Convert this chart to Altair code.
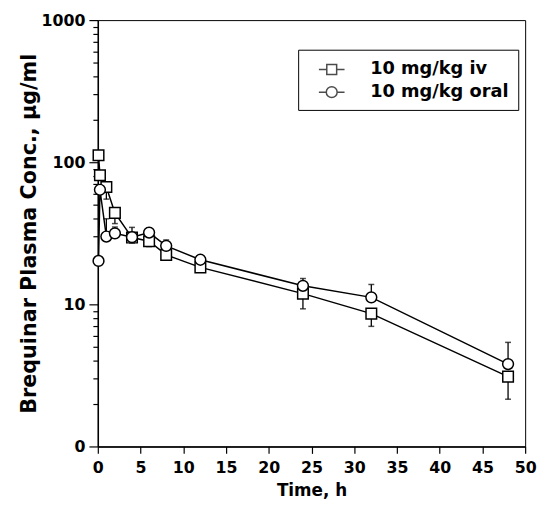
import altair as alt
import pandas as pd

# ---- data ----
times = [0.083, 0.25, 1, 2, 4, 6, 8, 12, 24, 32, 48]
iv_conc = [112, 81, 67, 44, 29.5, 27.8, 22.3, 18.2, 11.9, 8.6, 3.1]
iv_low = [None, None, 55, 37, 27, 25.5, 21, 17, 9.3, 7.0, 2.15]
oral_conc = [20.2, 64, 30, 31.6, 29.7, 32, 25.8, 20.6, 13.5, 11.2, 3.8]
oral_high = [None, None, 40, 35, 34.8, 34.5, 28.4, 21.5, 15.2, 13.8, 5.4]
series = ["10 mg/kg iv", "10 mg/kg oral"]
x_ticks = [0, 5, 10, 15, 20, 25, 30, 35, 40, 45, 50]
y_ticks = [1, 2, 3, 4, 5, 6, 7, 8, 9,
           10, 20, 30, 40, 50, 60, 70, 80, 90,
           100, 200, 300, 400, 500, 600, 700, 800, 900, 1000]

rows = []
for t, c, e in zip(times, iv_conc, iv_low):
    rows.append({"t": t, "c": c, "e": e, "s": series[0]})
for t, c, e in zip(times, oral_conc, oral_high):
    rows.append({"t": t, "c": c, "e": e, "s": series[1]})
df = pd.DataFrame(rows)

FONT = "DejaVu Sans"

x_enc = alt.X("t:Q",
              scale=alt.Scale(domain=[0, 50], nice=False, zero=False),
              axis=alt.Axis(values=x_ticks, title="Time, h", grid=False,
                            labelFlush=False, tickSize=7, labelPadding=6,
                            labelFontSize=16, titleFontSize=17, titlePadding=8))
y_axis = alt.Axis(values=y_ticks, grid=False, labelFlush=False,
                  title="Brequinar Plasma Conc., \u03bcg/ml",
                  labelExpr="datum.value == 1 ? '0' : ((datum.value == 10 || datum.value == 100 || datum.value == 1000) ? format(datum.value, 'd') : '')",
                  tickSize={"condition": {"test": "datum.value == 1 || datum.value == 10 || datum.value == 100 || datum.value == 1000", "value": 9}, "value": 5},
                  labelPadding=4, labelFontSize=16, titleFontSize=21, titlePadding=2)
y_scale = alt.Scale(type="log", domain=[1, 1000], nice=False)
y_enc = alt.Y("c:Q", scale=y_scale, axis=y_axis)

base = alt.Chart(df)

lines = base.mark_line(color="black", strokeWidth=1.5).encode(
    x=x_enc, y=y_enc, detail="s:N")

err = base.transform_filter("isValid(datum.e)").mark_rule(
    color="black", strokeWidth=1.3).encode(
    x=x_enc, y=y_enc, y2="e:Q")

caps = base.transform_filter("isValid(datum.e)").mark_tick(
    color="black", orient="horizontal", size=6, thickness=1.5).encode(
    x=x_enc, y=alt.Y("e:Q", scale=y_scale, axis=y_axis))

sq = base.transform_filter(alt.datum.s == series[0]).mark_point(
    shape="square", size=115, filled=True, fill="white", stroke="black",
    strokeWidth=1.5, opacity=1).encode(x=x_enc, y=y_enc)

ci = base.transform_filter(alt.datum.s == series[1]).mark_point(
    shape="circle", size=120, filled=True, fill="white", stroke="black",
    strokeWidth=1.5, opacity=1).encode(x=x_enc, y=y_enc)

sq_path = "M-1.3,0H-0.5M0.5,0H1.3M-0.5,-0.5H0.5V0.5H-0.5Z"
ci_path = "M-1.3,0H-0.55M0.55,0H1.3M0.55,0A0.55,0.55,0,1,1,-0.55,0A0.55,0.55,0,1,1,0.55,0Z"

legend_layer = base.transform_filter("datum.t < 0").mark_point(
    filled=False, strokeWidth=1.5).encode(
    x=x_enc, y=y_enc,
    shape=alt.Shape("s:N",
                    scale=alt.Scale(domain=series, range=[sq_path, ci_path]),
                    legend=alt.Legend(title=None, orient="none", legendX=203, legendY=30,
                                      direction="vertical", strokeColor="black",
                                      fillColor="white", padding=9, symbolSize=400,
                                      symbolStrokeWidth=1.5, symbolStrokeColor="black",
                                      symbolFillColor="white", symbolOffset=14,
                                      labelFont=FONT, labelFontSize=18,
                                      labelFontWeight="bold", labelColor="black",
                                      labelOffset=28, rowPadding=3)))

chart = alt.layer(lines, err, caps, sq, ci, legend_layer).properties(
    width=433, height=432,
    padding={"left": 10, "top": 1, "right": 0, "bottom": 0}
).configure(
    font=FONT
).configure_axis(
    labelFont=FONT, titleFont=FONT, labelFontWeight="bold", titleFontWeight="bold",
    labelColor="black", titleColor="black", domainColor="black", tickColor="black",
    domainWidth=1.5, tickWidth=1.2
).configure_view(
    stroke="black", strokeWidth=1
)

chart.save("out.html", embed_options={"renderer": "svg", "actions": False})
